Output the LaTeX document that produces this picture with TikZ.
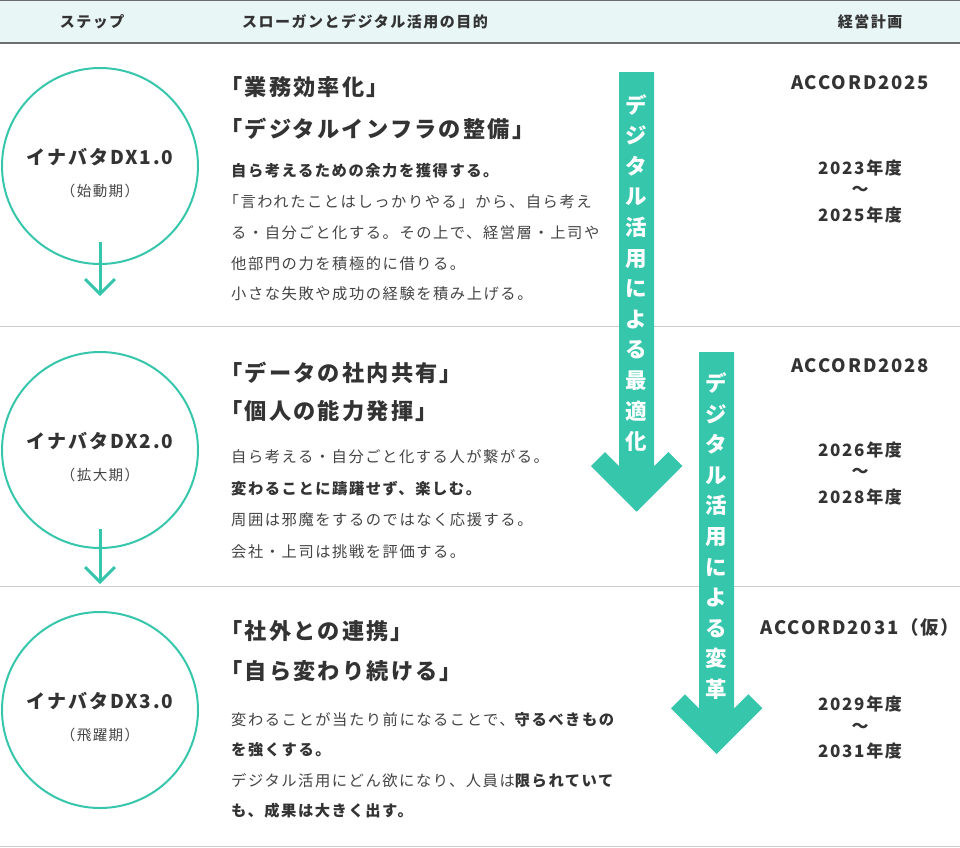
\documentclass[tikz,border=0pt]{standalone}
\usepackage{fontspec}
\setmainfont{Noto Sans CJK JP}[LetterSpace=10]
\usetikzlibrary{calc}
\definecolor{teal1}{RGB}{54,198,172}
\definecolor{hdrbg}{RGB}{232,247,246}
\definecolor{txt}{RGB}{51,51,51}
\definecolor{txtl}{RGB}{68,68,68}
\definecolor{sepc}{RGB}{204,204,204}
\definecolor{hdrline}{RGB}{110,110,110}
\newcommand\hlbold[1]{{\color{txt}\bfseries #1}}
\begin{document}
\begin{tikzpicture}[x=1pt,y=-1pt,
  hdr/.style={font=\fontsize{15}{18}\selectfont\bfseries, text=txt, inner sep=0pt},
  ttl/.style={font=\fontsize{22.2}{26}\selectfont\bfseries, text=txt, inner sep=0pt, anchor=west},
  bdy/.style={font=\fontsize{15.3}{18}\selectfont, text=txtl, inner sep=0pt, anchor=west},
  stepname/.style={font=\fontsize{19}{22}\selectfont\bfseries, text=txt, inner sep=0pt},
  stepsub/.style={font=\fontsize{14.5}{17}\selectfont, text=txtl, inner sep=0pt},
  plan/.style={font=\fontsize{18.5}{22}\selectfont\bfseries, text=txt, inner sep=0pt},
  yr/.style={font=\fontsize{17}{20}\selectfont\bfseries, text=txt, inner sep=0pt},
  stepcircle/.style={circle, draw=teal1, line width=2pt, minimum size=196pt, inner sep=0pt},
  flow/.style={draw=teal1, line width=3pt},
  bigarrow/.style={fill=teal1},
  arrowtext/.style={font=\fontsize{21.5}{30.6}\selectfont\bfseries, text=white, align=center, inner sep=0pt},
]
\useasboundingbox (0,0) rectangle (960,847);
% header
\fill[hdrbg] (0,0) rectangle (960,43);
\draw[hdrline, line width=1.2pt] (0,0.6) -- (960,0.6);
\draw[hdrline, line width=1.5pt] (0,43) -- (960,43);
\node[hdr] (h1) at (92,22) {ステップ};
\node[hdr, anchor=west] (h2) at (242,22) {スローガンとデジタル活用の目的};
\node[hdr] (h3) at (870,22) {経営計画};
% separators
\draw[sepc, line width=1pt] (0,326) -- (960,326);
\draw[sepc, line width=1pt] (0,586) -- (960,586);
\draw[sepc, line width=1pt] (0,846) -- (960,846);
% circles
\node[stepcircle] (c1) at (100,166) {};
\node[stepcircle] (c2) at (100,450) {};
\node[stepcircle] (c3) at (100,710) {};
\node[stepname] (n1) at (100,157.5) {イナバタDX1.0};
\node[stepsub] (s1) at (100,191) {（始動期）};
\node[stepname] (n2) at (100,441.5) {イナバタDX2.0};
\node[stepsub] (s2) at (100,475) {（拡大期）};
\node[stepname] (n3) at (100,701.5) {イナバタDX3.0};
\node[stepsub] (s3) at (100,735) {（飛躍期）};
% small flow arrows
\coordinate (f1a) at (100,242);
\coordinate (f1b) at (100,294);
\coordinate (f2a) at (100,529);
\coordinate (f2b) at (100,582);
\draw[flow] (f1a) -- (f1b);
\draw[flow] ($(f1b)+(-15,-15)$) -- (f1b) -- ($(f1b)+(15,-15)$);
\draw[flow] (f2a) -- (f2b);
\draw[flow] ($(f2b)+(-15,-15)$) -- (f2b) -- ($(f2b)+(15,-15)$);
% big arrows
\fill[bigarrow] (619.2,72) -- (654.2,72) -- (654.2,466.2) -- (668.4,452) -- (682.4,466) -- (636.7,511.7) -- (591,466) -- (605,452) -- (619.2,466.2) -- cycle;
\fill[bigarrow] (699.2,352) -- (734.2,352) -- (734.2,708.5) -- (748.4,694.3) -- (762.4,708.3) -- (716.7,754) -- (671,708.3) -- (685,694.3) -- (699.2,708.5) -- cycle;
\node[arrowtext] (t1) at (636.7,273) {デ\\ジ\\タ\\ル\\活\\用\\に\\よ\\る\\最\\適\\化};
\node[arrowtext] (t2) at (716.7,536) {デ\\ジ\\タ\\ル\\活\\用\\に\\よ\\る\\変\\革};
% row 1 texts
\node[ttl] (r1t1) at (220,87) {「業務効率化」};
\node[ttl] (r1t2) at (220,129) {「デジタルインフラの整備」};
\node[bdy] (r1b1) at (231,171) {\hlbold{自ら考えるための余力を獲得する。}};
\node[bdy] (r1b2) at (223.5,202) {「言われたことはしっかりやる」から、自ら考え};
\node[bdy] (r1b3) at (231,233) {る・自分ごと化する。その上で、経営層・上司や};
\node[bdy] (r1b4) at (231,264) {他部門の力を積極的に借りる。};
\node[bdy] (r1b5) at (231,294) {小さな失敗や成功の経験を積み上げる。};
% row 2 texts
\node[ttl] (r2t1) at (220,373) {「データの社内共有」};
\node[ttl] (r2t2) at (220,411) {「個人の能力発揮」};
\node[bdy] (r2b1) at (231,457) {自ら考える・自分ごと化する人が繋がる。};
\node[bdy] (r2b2) at (231,488.5) {\hlbold{変わることに躊躇せず、楽しむ。}};
\node[bdy] (r2b3) at (231,520) {周囲は邪魔をするのではなく応援する。};
\node[bdy] (r2b4) at (231,551.5) {会社・上司は挑戦を評価する。};
% row 3 texts
\node[ttl] (r3t1) at (220,631.5) {「社外との連携」};
\node[ttl] (r3t2) at (220,671.5) {「自ら変わり続ける」};
\node[bdy] (r3b1) at (231,720) {変わることが当たり前になることで、\hlbold{守るべきもの}};
\node[bdy] (r3b2) at (231,750) {\hlbold{を強くする。}};
\node[bdy] (r3b3) at (231,780.5) {デジタル活用にどん欲になり、人員は\hlbold{限られていて}};
\node[bdy] (r3b4) at (231,811) {\hlbold{も、成果は大きく出す。}};
% right column
\node[plan] (p1) at (860,83) {ACCORD2025};
\node[yr] (y1a) at (860,168) {2023年度};
\node[yr] (y1b) at (860,191) {〜};
\node[yr] (y1c) at (860,215) {2025年度};
\node[plan] (p2) at (860,366) {ACCORD2028};
\node[yr] (y2a) at (860,450) {2026年度};
\node[yr] (y2b) at (860,473) {〜};
\node[yr] (y2c) at (860,497) {2028年度};
\node[plan] (p3) at (860,627) {ACCORD2031（仮）};
\node[yr] (y3a) at (860,704) {2029年度};
\node[yr] (y3b) at (860,728) {〜};
\node[yr] (y3c) at (860,751) {2031年度};
\end{tikzpicture}
\end{document}
